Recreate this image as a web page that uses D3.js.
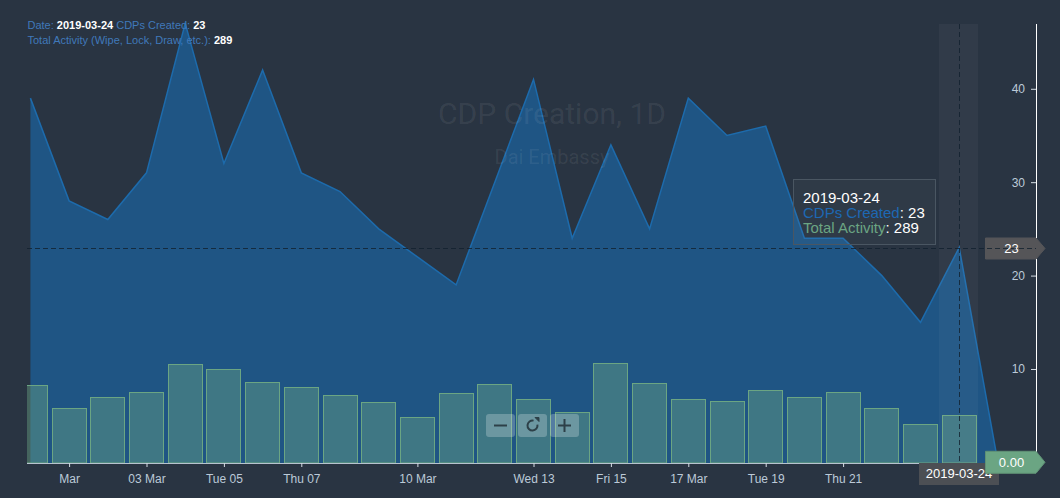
<!DOCTYPE html>
<html lang="en">
  <head>
    <meta charset="utf-8" />
    <title>CDP Creation, 1D</title>
    <script src="https://cdn.jsdelivr.net/npm/d3@7/dist/d3.min.js"></script>
    <style>
      html, body { margin: 0; padding: 0; background: #293442; overflow: hidden; }
      svg { display: block; font-family: "Liberation Sans", Arial, sans-serif; }
      .tick text { fill: #bccad8; font-size: 12px; }
    </style>
  </head>
  <body>
    <script>
      //Chart data
      var dates = ["2019-02-28","2019-03-01","2019-03-02","2019-03-03","2019-03-04","2019-03-05","2019-03-06",
        "2019-03-07","2019-03-08","2019-03-09","2019-03-10","2019-03-11","2019-03-12","2019-03-13","2019-03-14",
        "2019-03-15","2019-03-16","2019-03-17","2019-03-18","2019-03-19","2019-03-20","2019-03-21","2019-03-22",
        "2019-03-23","2019-03-24","2019-03-25"];
      var cdps = [39,28,26,31,47,32,42,31,29,25,22,19,30,41,24,34,25,39,35,36,24,24,20,15,23,0];
      var activity = [472,332,399,429,599,569,490,459,411,368,277,423,478,386,307,605,484,386,374,441,399,429,332,234,289];

      var xTickDates = ["2019-03-01","2019-03-03","2019-03-05","2019-03-07","2019-03-10","2019-03-13","2019-03-15","2019-03-17","2019-03-19","2019-03-21"];
      var xTickLabels = ["Mar","03 Mar","Tue 05","Thu 07","10 Mar","Wed 13","Fri 15","17 Mar","Tue 19","Thu 21"];
      var yTicks = [10,20,30,40];

      var w = 1060;
      var h = 498;
      var left = 27, right = 1036, top_ = 24, bottom = 463;
      var selected = "2019-03-24";
      var selIndex = dates.indexOf(selected);

      var parse = d3.utcParse("%Y-%m-%d");

      var xScale = d3.scaleUtc()
        .domain([parse(dates[0]), parse(dates[dates.length - 1])])
        .range([30.4, 997.9]);
      var yScale = d3.scaleLinear().domain([0, 47]).range([462.4, 23.4]);
      var volScale = d3.scaleLinear().domain([0, 289]).range([bottom, 415.5]);

      var svg = d3.select("body").append("svg").attr("width", w).attr("height", h);

      svg.append("defs").append("clipPath").attr("id", "plot")
        .append("rect").attr("x", left).attr("y", 0).attr("width", right - left).attr("height", bottom);

      var chart = svg.append("g").attr("clip-path", "url(#plot)");

      //Area
      var area = d3.area()
        .x(function (d, i) { return xScale(parse(dates[i])); })
        .y0(bottom)
        .y1(function (d) { return yScale(d); });
      var line = d3.line()
        .x(function (d, i) { return xScale(parse(dates[i])); })
        .y(function (d) { return yScale(d); });

      chart.append("path").datum(cdps).attr("d", area).attr("fill", "#1f5584");
      chart.append("path").datum(cdps).attr("d", line)
        .attr("fill", "none").attr("stroke", "#1d6bac").attr("stroke-width", 1.5);

      //Watermark shows through on top of the area
      svg.append("text").text("CDP Creation, 1D")
        .attr("x", 552).attr("y", 124).attr("text-anchor", "middle")
        .attr("font-family", "Roboto").attr("font-size", "30px").attr("fill", "#ffffff").attr("fill-opacity", 0.08);
      svg.append("text").text("Dai Embassy")
        .attr("x", 552).attr("y", 164).attr("text-anchor", "middle")
        .attr("font-family", "Roboto").attr("font-size", "20px").attr("fill", "#ffffff").attr("fill-opacity", 0.08);

      //Bars, snapped to whole pixels
      var barW = 34;
      function barX(d, i) { return Math.floor(xScale(parse(dates[i])) - barW / 2) + 0.5; }
      function barY(d) { return Math.floor(volScale(d)) + 0.5; }
      chart.selectAll("rect.vol")
        .data(activity)
        .enter()
        .append("rect")
        .attr("class", "vol")
        .attr("x", barX)
        .attr("y", barY)
        .attr("width", barW)
        .attr("height", function (d) { return bottom - barY(d); })
        .attr("fill", "#6ba583")
        .attr("fill-opacity", 0.43)
        .attr("stroke", "#6ba583")
        .attr("stroke-width", 1);

      //Axes
      var xAxis = d3.axisBottom(xScale)
        .tickValues(xTickDates.map(parse))
        .tickFormat(function (d, i) { return xTickLabels[i]; })
        .tickSize(4)
        .tickPadding(7);
      var gx = svg.append("g").attr("transform", "translate(0," + bottom + ")").call(xAxis);
      gx.select(".domain").attr("d", "M" + left + ",0.5H" + right).attr("stroke", "#b7c3cf");
      gx.selectAll(".tick line").attr("stroke", "#d5dde4");

      var yAxis = d3.axisLeft(yScale).tickValues(yTicks).tickSize(5).tickPadding(6);
      var gy = svg.append("g").attr("transform", "translate(" + right + ",0)").call(yAxis);
      gy.select(".domain").attr("d", "M0.5," + top_ + "V" + bottom).attr("stroke", "#ffffff");
      gy.selectAll(".tick line").attr("stroke", "#d5dde4");

      var sx = Math.floor(xScale(parse(selected)));
      var sy = Math.round(yScale(cdps[selIndex])) + 0.5;

      //Edge labels
      svg.append("rect").attr("x", sx - 40).attr("y", bottom).attr("width", 80).attr("height", 22).attr("fill", "#4c4f54");
      svg.append("text").text(selected)
        .attr("x", sx).attr("y", bottom + 15).attr("text-anchor", "middle")
        .attr("font-size", "13px").attr("fill", "#ffffff");

      function edgeLabel(cy, hh, fill, border, label) {
        var g = svg.append("g");
        g.append("path")
          .attr("d", "M985.5," + (cy - hh) + "H1036L1045," + cy + "L1036," + (cy + hh) + "H985.5Z")
          .attr("fill", fill).attr("stroke", border);
        g.append("text").text(label)
          .attr("x", 1011.5).attr("y", cy + 4.5).attr("text-anchor", "middle")
          .attr("font-size", "13px").attr("fill", "#ffffff");
      }
      edgeLabel(sy, 10.5, "#555558", "#555558", String(cdps[selIndex]));
      edgeLabel(462.3, 11, "#6ba583", "#5f9075", d3.format(".2f")(cdps[cdps.length - 1]));

      //Crosshair
      svg.append("rect")
        .attr("x", sx - 20).attr("y", top_).attr("width", 39).attr("height", bottom - top_)
        .attr("fill", "#ffffff").attr("fill-opacity", 0.04);
      svg.append("line")
        .attr("x1", sx + 0.5).attr("x2", sx + 0.5).attr("y1", top_).attr("y2", bottom)
        .attr("stroke", "#11202e").attr("stroke-dasharray", "5,3").attr("stroke-opacity", 0.8);
      svg.append("line")
        .attr("x1", left).attr("x2", right).attr("y1", sy).attr("y2", sy)
        .attr("stroke", "#11202e").attr("stroke-dasharray", "5,3").attr("stroke-opacity", 0.8);

      //Legend top left
      var legend = svg.append("g").attr("font-size", "11px");
      var l1 = legend.append("text").attr("x", 27.5).attr("y", 29).attr("fill", "#4079ba");
      l1.append("tspan").text("Date: ");
      l1.append("tspan").text(selected).attr("fill", "#ffffff").attr("font-weight", "bold");
      l1.append("tspan").text(" CDPs Created: ");
      l1.append("tspan").text(cdps[selIndex]).attr("fill", "#ffffff").attr("font-weight", "bold");
      var l2 = legend.append("text").attr("x", 27.5).attr("y", 44).attr("fill", "#4079ba");
      l2.append("tspan").text("Total Activity (Wipe, Lock, Draw, etc.): ");
      l2.append("tspan").text(activity[selIndex]).attr("fill", "#ffffff").attr("font-weight", "bold");

      //Tooltip
      var tip = svg.append("g").attr("font-size", "15px").attr("fill", "#ffffff");
      tip.append("rect")
        .attr("x", 793.5).attr("y", 179.5).attr("width", 142).attr("height", 65)
        .attr("fill", "#ffffff").attr("fill-opacity", 0.03)
        .attr("stroke", "#4a5662");
      tip.append("text").text(selected).attr("x", 803).attr("y", 203);
      var t2 = tip.append("text").attr("x", 803).attr("y", 218);
      t2.append("tspan").text("CDPs Created").attr("fill", "#1d68b4");
      t2.append("tspan").text(": " + cdps[selIndex]);
      var t3 = tip.append("text").attr("x", 803).attr("y", 233);
      t3.append("tspan").text("Total Activity").attr("fill", "#6ba583");
      t3.append("tspan").text(": " + activity[selIndex]);

      //Zoom buttons
      var buttons = [486, 518, 550];
      svg.selectAll("rect.btn")
        .data(buttons)
        .enter()
        .append("rect")
        .attr("class", "btn")
        .attr("x", function (d) { return d; })
        .attr("y", 414).attr("width", 29).attr("height", 23).attr("rx", 3)
        .attr("fill", "#ffffff").attr("fill-opacity", 0.24);
      var icons = svg.append("g").attr("fill", "none").attr("stroke", "#2d4048").attr("stroke-width", 2);
      icons.append("path").attr("d", "M494,425.5H507");
      icons.append("path").attr("d", "M558,425.5H571M564.5,419V432");
      icons.append("path").attr("d", d3.arc()({ innerRadius: 5, outerRadius: 5, startAngle: 1.4, endAngle: 6.5 }))
        .attr("transform", "translate(532.5,425.5)");
      icons.append("path").attr("d", "M535,417.5H539V421.5Z").attr("fill", "#2d4048").attr("stroke-width", 1);
    </script>
  </body>
</html>
